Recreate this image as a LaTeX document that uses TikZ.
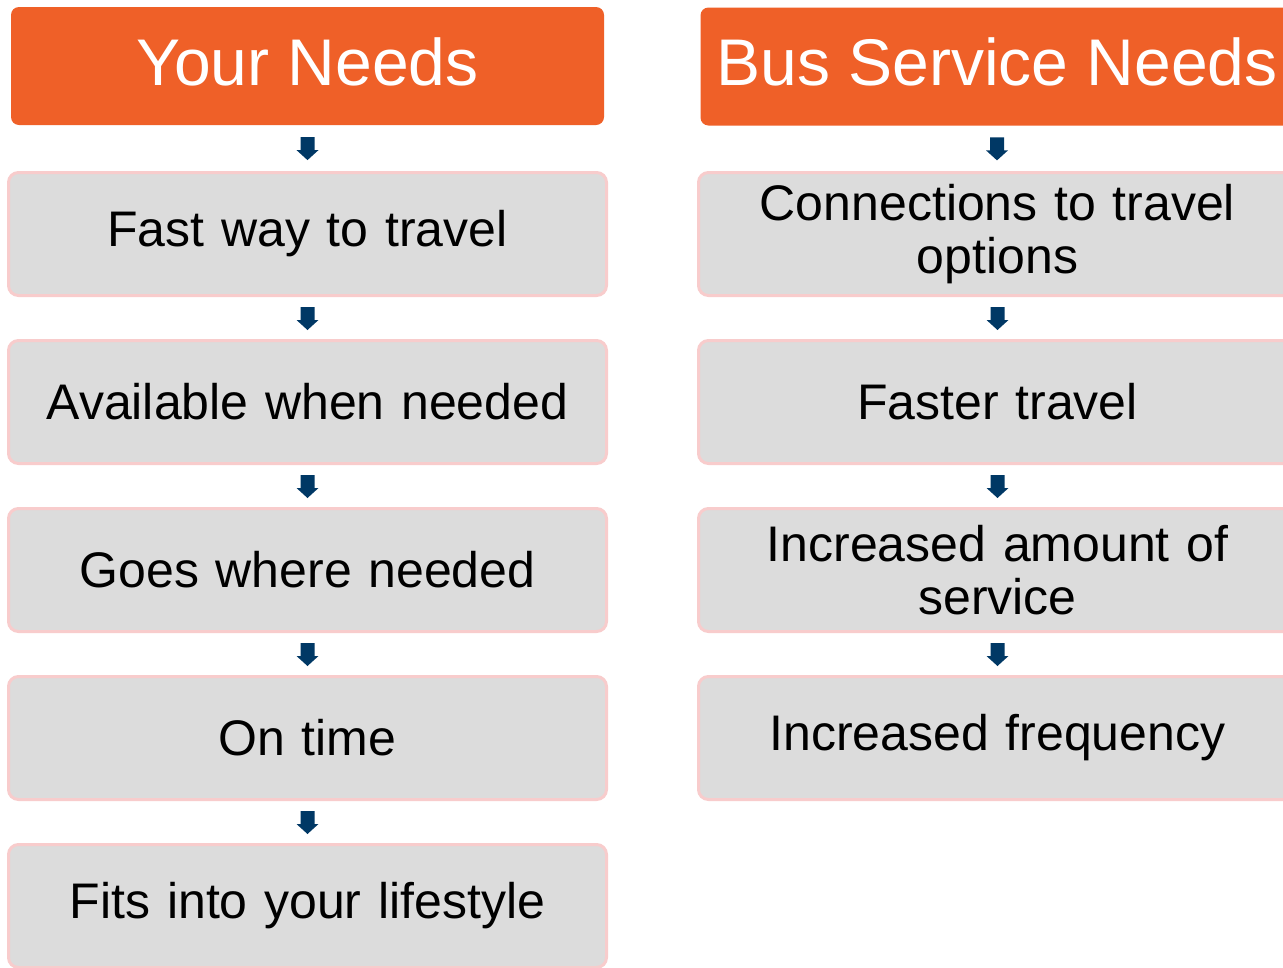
\documentclass[tikz,border=0pt]{standalone}
\usepackage{fontspec}
\setmainfont{Liberation Sans}
\usetikzlibrary{calc}
\definecolor{hdr}{RGB}{239,96,40}
\definecolor{boxfill}{RGB}{220,220,220}
\definecolor{boxline}{RGB}{248,204,204}
\definecolor{arr}{RGB}{0,56,101}
\tikzset{
  header/.style={fill=hdr, rounded corners=8pt, inner sep=0pt, minimum width=593pt, minimum height=118pt, text=white, text height=47pt, text depth=9pt, font=\fontsize{66}{70}\selectfont},
  itembox/.style={fill=boxfill, draw=boxline, line width=3pt, rounded corners=10pt, inner sep=0pt, minimum width=598pt, minimum height=123pt, text width=580pt, align=center, font=\fontsize{50}{53}\selectfont},
  blockarrow/.style={fill=arr}
}
\newcommand{\downarrowbetween}[2]{%
  \path let \p1=(#1.south), \p2=(#2.north) in coordinate (m) at (\x1, {(\y1+\y2)/2});
  \fill[blockarrow] ($(m)+(-7,-11)$) -- ($(m)+(7,-11)$) -- ($(m)+(7,2)$) -- ($(m)+(11,2)$) -- ($(m)+(0,12)$) -- ($(m)+(-11,2)$) -- ($(m)+(-7,2)$) -- cycle;
}
\begin{document}
\begin{tikzpicture}[x=1pt,y=-1pt]
\useasboundingbox (0,0) rectangle (1283,967);
\clip (0,0) rectangle (1283,967);
\fill[white] (0,0) rectangle (1283,967);
% left column
\node[header] (h1) at (307.5,66) {Your Needs};
\node[itembox] (a1) at (307.5,234) {Fast way to travel};
\node[itembox] (a2) at (307.5,402) {Available when needed};
\node[itembox] (a3) at (307.5,570) {Goes where needed};
\node[itembox] (a4) at (307.5,738) {On time};
\node[itembox] (a5) at (307.5,906) {Fits into your lifestyle};
% right column
\node[header] (h2) at (997,66.5) {Bus Service Needs};
\node[itembox] (b1) at (997.5,234) {Connections to travel\\options};
\node[itembox] (b2) at (997.5,402) {Faster travel};
\node[itembox] (b3) at (997.5,570) {Increased amount of\\service};
\node[itembox] (b4) at (997.5,738) {Increased frequency};
% arrows
\downarrowbetween{h1}{a1}
\downarrowbetween{a1}{a2}
\downarrowbetween{a2}{a3}
\downarrowbetween{a3}{a4}
\downarrowbetween{a4}{a5}
\downarrowbetween{h2}{b1}
\downarrowbetween{b1}{b2}
\downarrowbetween{b2}{b3}
\downarrowbetween{b3}{b4}
\end{tikzpicture}
\end{document}
